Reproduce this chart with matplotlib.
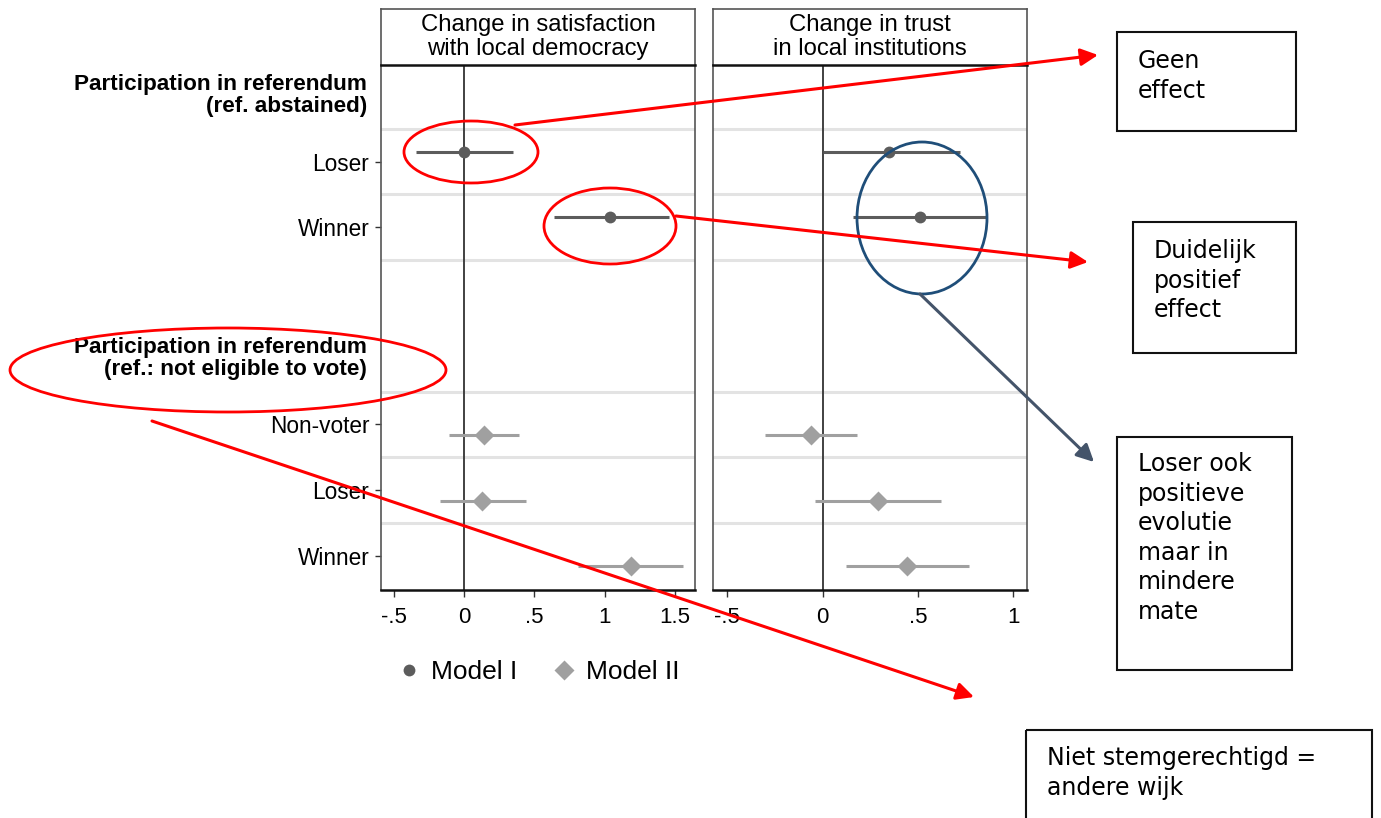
import matplotlib.pyplot as plt
from matplotlib.patches import Ellipse, Rectangle
from matplotlib.lines import Line2D

plt.rcParams['font.family'] = ['Liberation Sans', 'DejaVu Sans']

W, H = 1381, 818

# coefficient data
row_labels = ["Loser", "Winner", "Non-voter", "Loser", "Winner"]
row_pos = [1, 2, 5, 6, 7]
row_model = ["I", "I", "II", "II", "II"]

sat_est = [0.00, 1.04, 0.14, 0.13, 1.19]
sat_lo = [-0.34, 0.64, -0.11, -0.17, 0.81]
sat_hi = [0.35, 1.46, 0.39, 0.44, 1.56]

trust_est = [0.35, 0.51, -0.06, 0.29, 0.44]
trust_lo = [0.00, 0.16, -0.30, -0.04, 0.12]
trust_hi = [0.72, 0.86, 0.18, 0.62, 0.77]

group_rows = [0, 4]
group_labels = ["Participation in referendum\n(ref. abstained)",
                "Participation in referendum\n(ref.: not eligible to vote)"]
panel_titles = ["Change in satisfaction\nwith local democracy",
                "Change in trust\nin local institutions"]
x_ticks = [[-0.5, 0, 0.5, 1, 1.5], [-0.5, 0, 0.5, 1]]
x_ticklabels = [["-.5", "0", ".5", "1", "1.5"], ["-.5", "0", ".5", "1"]]
x_limits = [(-0.591, 1.644), (-0.575, 1.072)]

styles = {"I": dict(color="#5c5c5c", marker="o", ms=8.5, off=-0.15),
          "II": dict(color="#a0a0a0", marker="D", ms=10, off=0.16)}


def fx(x):
    return x / W


def fy(y):
    return 1 - y / H


fig = plt.figure(figsize=(W / 100, H / 100), dpi=100)

panel_left = [381, 713]
panel_w = 314
top, bottom, head_top = 65, 590, 9
data = [(sat_est, sat_lo, sat_hi), (trust_est, trust_lo, trust_hi)]

for p in range(2):
    ax = fig.add_axes([fx(panel_left[p]), fy(bottom), panel_w / W, (bottom - top) / H])
    est, lo, hi = data[p]
    for i in range(len(row_pos)):
        st = styles[row_model[i]]
        y = row_pos[i] + st["off"]
        ax.plot([lo[i], hi[i]], [y, y], color=st["color"], lw=2.2, solid_capstyle="butt", zorder=3)
        ax.plot(est[i], y, marker=st["marker"], color=st["color"], ms=st["ms"], mec="none", zorder=4)
    for g in [0.5, 1.5, 2.5, 4.5, 5.5, 6.5]:
        ax.axhline(g, color="#e3e3e3", lw=2.2, zorder=1)
    ax.axvline(0, color="#333333", lw=1.3, zorder=2)
    ax.set_xlim(*x_limits[p])
    ax.set_ylim(7.52, -0.47)
    ax.set_xticks(x_ticks[p])
    ax.set_xticklabels(x_ticklabels[p])
    ax.tick_params(axis="x", length=5, width=1, pad=7, labelsize=16, color="#333333")
    for s in ["left", "right", "top"]:
        ax.spines[s].set_color("#555555")
        ax.spines[s].set_linewidth(1.2)
    ax.spines["bottom"].set_color("#111111")
    ax.spines["bottom"].set_linewidth(1.8)
    if p == 0:
        ax.set_yticks(row_pos)
        ax.set_yticklabels(row_labels)
        ax.tick_params(axis="y", length=4.5, width=1, pad=4, labelsize=16.3, color="#333333")
        for r, lab in zip(group_rows, group_labels):
            ax.annotate(lab, xy=(0, r), xycoords=ax.get_yaxis_transform(),
                        xytext=(-10, 0), textcoords="offset points",
                        ha="right", va="center", fontsize=16.2, fontweight="bold",
                        linespacing=1.05)
    else:
        ax.set_yticks([])

    hx = fig.add_axes([fx(panel_left[p]), fy(top), panel_w / W, (top - head_top) / H])
    hx.set_xticks([])
    hx.set_yticks([])
    for s in ["left", "right", "top"]:
        hx.spines[s].set_color("#555555")
        hx.spines[s].set_linewidth(1.2)
    hx.spines["bottom"].set_color("#111111")
    hx.spines["bottom"].set_linewidth(1.8)
    hx.text(0.5, 0.5, panel_titles[p], ha="center", va="center", fontsize=17.2,
            linespacing=1.12, transform=hx.transAxes)

handles = [Line2D([], [], ls="none", marker="o", color=styles["I"]["color"], ms=8.5, mec="none"),
           Line2D([], [], ls="none", marker="D", color=styles["II"]["color"], ms=10, mec="none")]
fig.legend(handles, ["Model I", "Model II"], loc="center left",
           bbox_to_anchor=(fx(372), fy(672)), ncol=2, frameon=False, fontsize=19,
           handletextpad=0.35, columnspacing=1.25, handlelength=1.0)

# annotation overlay in pixel coordinates
ov = fig.add_axes([0, 0, 1, 1], zorder=10)
ov.set_xlim(0, W)
ov.set_ylim(H, 0)
ov.axis("off")
ov.patch.set_alpha(0)

red = "#ff0000"
ov.add_patch(Ellipse((471, 152), 134, 62, fill=False, ec=red, lw=2))
ov.add_patch(Ellipse((610, 226), 132, 76, fill=False, ec=red, lw=2))
ov.add_patch(Ellipse((228, 370), 436, 84, fill=False, ec=red, lw=2))
ov.add_patch(Ellipse((922, 218), 130, 152, fill=False, ec="#1f4e79", lw=2))

arrows = [((515, 125), (1098, 55), red),
          ((676, 216), (1088, 262), red),
          ((920, 294), (1094, 462), "#44546a"),
          ((152, 421), (974, 697), red)]
for start, end, col in arrows:
    ov.annotate("", xy=end, xytext=start,
                arrowprops=dict(arrowstyle="-|>", color=col, lw=2.2, mutation_scale=26,
                                shrinkA=0, shrinkB=0))

boxes = [((1117, 32), 179, 99, "Geen\neffect", (1138, 49)),
         ((1133, 222), 163, 131, "Duidelijk\npositief\neffect", (1154, 239)),
         ((1117, 437), 175, 233, "Loser ook\npositieve\nevolutie\nmaar in\nmindere\nmate", (1138, 452)),
         ((1026, 730), 346, 100, "Niet stemgerechtigd =\nandere wijk", (1047, 746))]
for (bx, by), bw, bh, txt, (tx, ty) in boxes:
    ov.add_patch(Rectangle((bx, by), bw, bh, fill=False, ec="#111111", lw=1.5))
    ov.text(tx, ty, txt, ha="left", va="top", fontsize=17, family="DejaVu Sans",
            linespacing=1.29)

fig.savefig("out.png", dpi=100)
